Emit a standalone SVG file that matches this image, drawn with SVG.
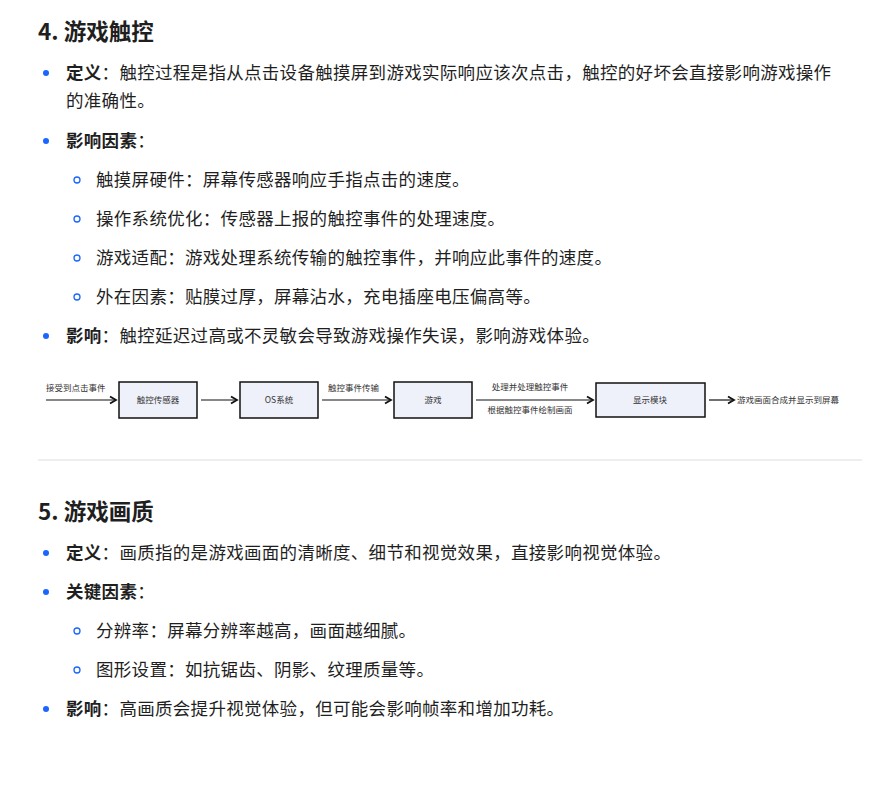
<svg xmlns="http://www.w3.org/2000/svg" width="876" height="797" viewBox="0 0 876 797">
<style>
text{font-family:"Noto Sans CJK SC","Noto Sans",sans-serif;fill:#1f1f1f}
.h{font-size:22.5px;font-weight:bold}
.t{font-size:17.5px;letter-spacing:0.3px}
.b{font-weight:bold}
.dot{fill:#1a66ff}
.ring{fill:none;stroke:#1a66ff;stroke-width:1.3}
.box rect{fill:#eef0fa;stroke:#111;stroke-width:1.5}
.box text,.lbl{font-size:8.5px;fill:#333}
.c line{stroke:#111;stroke-width:1.2}
</style>
<defs><marker id="a" markerWidth="8" markerHeight="8" refX="6" refY="4" orient="auto"><path d="M1,1 L6,4 L1,7" fill="none" stroke="#111" stroke-width="1.5"/></marker></defs>
<rect width="876" height="797" fill="#fff"/>
<text class="h" x="38" y="40">4. 游戏触控</text>
<circle class="dot" cx="46" cy="73" r="3"/>
<text class="t" x="66" y="79"><tspan class="b">定义</tspan>：触控过程是指从点击设备触摸屏到游戏实际响应该次点击，触控的好坏会直接影响游戏操作</text>
<text class="t" x="66" y="107">的准确性。</text>
<circle class="dot" cx="46" cy="141" r="3"/>
<text class="t" x="66" y="147"><tspan class="b">影响因素</tspan>：</text>
<circle class="ring" cx="77" cy="180" r="3"/>
<text class="t" x="96" y="186">触摸屏硬件：屏幕传感器响应手指点击的速度。</text>
<circle class="ring" cx="77" cy="219" r="3"/>
<text class="t" x="96" y="225">操作系统优化：传感器上报的触控事件的处理速度。</text>
<circle class="ring" cx="77" cy="258" r="3"/>
<text class="t" x="96" y="264">游戏适配：游戏处理系统传输的触控事件，并响应此事件的速度。</text>
<circle class="ring" cx="77" cy="297" r="3"/>
<text class="t" x="96" y="303">外在因素：贴膜过厚，屏幕沾水，充电插座电压偏高等。</text>
<circle class="dot" cx="46" cy="336" r="3"/>
<text class="t" x="66" y="342"><tspan class="b">影响</tspan>：触控延迟过高或不灵敏会导致游戏操作失误，影响游戏体验。</text>
<g id="n1" class="box"><rect x="119" y="382" width="78" height="36"/><text x="158" y="403" text-anchor="middle">触控传感器</text></g>
<g id="n2" class="box"><rect x="240" y="382" width="78" height="36"/><text x="279" y="403" text-anchor="middle">OS系统</text></g>
<g id="n3" class="box"><rect x="394" y="382" width="78" height="36"/><text x="433" y="403" text-anchor="middle">游戏</text></g>
<g id="n4" class="box"><rect x="596" y="383" width="109" height="34"/><text x="650" y="403" text-anchor="middle">显示模块</text></g>
<g class="c">
<line x1="46" y1="400" x2="116" y2="400" marker-end="url(#a)"/>
<line x1="201" y1="400" x2="237" y2="400" marker-end="url(#a)"/>
<line x1="322" y1="400" x2="391" y2="400" marker-end="url(#a)"/>
<line x1="476" y1="400" x2="593" y2="400" marker-end="url(#a)"/>
<line x1="709" y1="400" x2="734" y2="400" marker-end="url(#a)"/>
</g>
<text class="lbl" x="46" y="391">接受到点击事件</text>
<text class="lbl" x="328" y="391">触控事件传输</text>
<text class="lbl" x="530" y="390" text-anchor="middle">处理并处理触控事件</text>
<text class="lbl" x="530" y="413" text-anchor="middle">根据触控事件绘制画面</text>
<text class="lbl" x="737" y="403">游戏画面合成并显示到屏幕</text>
<line x1="38" y1="460" x2="862" y2="460" stroke="#ddd" stroke-width="1"/>
<text class="h" x="38" y="520">5. 游戏画质</text>
<circle class="dot" cx="46" cy="553" r="3"/>
<text class="t" x="66" y="559"><tspan class="b">定义</tspan>：画质指的是游戏画面的清晰度、细节和视觉效果，直接影响视觉体验。</text>
<circle class="dot" cx="46" cy="592" r="3"/>
<text class="t" x="66" y="598"><tspan class="b">关键因素</tspan>：</text>
<circle class="ring" cx="77" cy="631" r="3"/>
<text class="t" x="96" y="637">分辨率：屏幕分辨率越高，画面越细腻。</text>
<circle class="ring" cx="77" cy="670" r="3"/>
<text class="t" x="96" y="676">图形设置：如抗锯齿、阴影、纹理质量等。</text>
<circle class="dot" cx="46" cy="709" r="3"/>
<text class="t" x="66" y="715"><tspan class="b">影响</tspan>：高画质会提升视觉体验，但可能会影响帧率和增加功耗。</text>
</svg>
